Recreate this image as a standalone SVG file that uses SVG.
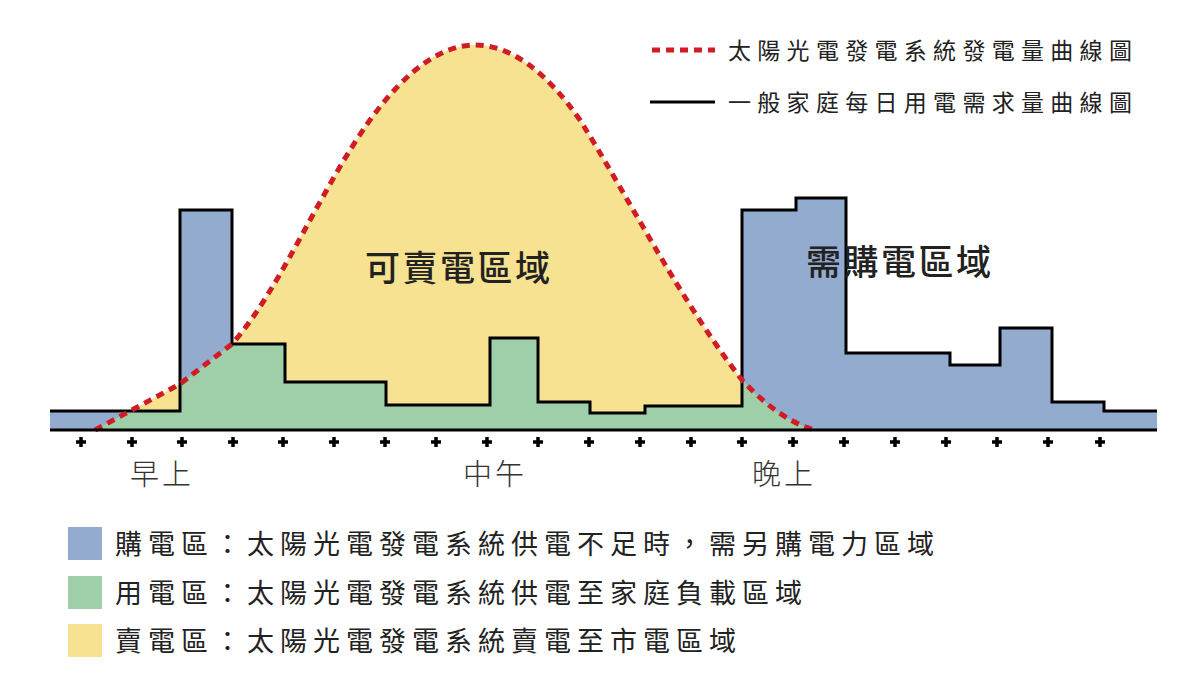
<svg xmlns="http://www.w3.org/2000/svg" width="1200" height="694" viewBox="0 0 1200 694">
<style>
text{font-family:"Liberation Sans","Noto Sans CJK TC",sans-serif;fill:#222}
.lg{font-size:23px;letter-spacing:6.3px}
.big{font-size:35px;font-weight:500;letter-spacing:2.5px}
.t{font-size:29px;font-weight:300;fill:#333;letter-spacing:3px}
.leg{font-size:27px;letter-spacing:6px}
.tick{stroke:#000;stroke-width:3.5}
</style>
<defs>
<path id="sun" d="M95,430 L180,384 L232,344 C280,290 320,190 370,120 C410,65 445,45 475,45 C510,45 545,70 580,120 C630,200 680,300 742,380 C770,410 795,425 815,430 Z"/>
<clipPath id="dem"><path d="M50,430 L50,411 L180,411 L180,210 L232,210 L232,344 L285,344 L285,382 L386,382 L386,405 L490,405 L490,338 L538,338 L538,402 L590,402 L590,413 L645,413 L645,406 L742,406 L742,210 L796,210 L796,198 L846,198 L846,353 L950,353 L950,365 L1000,365 L1000,328 L1052,328 L1052,402 L1104,402 L1104,411 L1157,411 L1157,430 Z"/></clipPath>
</defs>
<rect width="1200" height="694" fill="#fff"/>
<g id="areas">
<use href="#sun" fill="#f6e291"/>
<path d="M50,430 L50,411 L180,411 L180,210 L232,210 L232,344 L285,344 L285,382 L386,382 L386,405 L490,405 L490,338 L538,338 L538,402 L590,402 L590,413 L645,413 L645,406 L742,406 L742,210 L796,210 L796,198 L846,198 L846,353 L950,353 L950,365 L1000,365 L1000,328 L1052,328 L1052,402 L1104,402 L1104,411 L1157,411 L1157,430 Z" fill="#93abcf"/>
<use href="#sun" fill="#9fcfa9" clip-path="url(#dem)"/>
</g>
<g id="connectors">
<path d="M50,411 L180,411 L180,210 L232,210 L232,344 L285,344 L285,382 L386,382 L386,405 L490,405 L490,338 L538,338 L538,402 L590,402 L590,413 L645,413 L645,406 L742,406 L742,210 L796,210 L796,198 L846,198 L846,353 L950,353 L950,365 L1000,365 L1000,328 L1052,328 L1052,402 L1104,402 L1104,411 L1157,411" fill="none" stroke="#000" stroke-width="3"/>
<path d="M95,430 L180,384 L232,344 C280,290 320,190 370,120 C410,65 445,45 475,45 C510,45 545,70 580,120 C630,200 680,300 742,380 C770,410 795,425 815,430" fill="none" stroke="#d01c24" stroke-width="5" stroke-dasharray="8,6"/>
<line x1="50" y1="430" x2="1157" y2="430" stroke="#000" stroke-width="3"/>
<g class="tick">
<path d="M76,442h10M81,437v10 M127,442h10M132,437v10 M177,442h10M182,437v10 M228,442h10M233,437v10 M278,442h10M283,437v10 M329,442h10M334,437v10 M380,442h10M385,437v10 M431,442h10M436,437v10 M482,442h10M487,437v10 M533,442h10M538,437v10 M584,442h10M589,437v10 M635,442h10M640,437v10 M686,442h10M691,437v10 M737,442h10M742,437v10 M788,442h10M793,437v10 M839,442h10M844,437v10 M890,442h10M895,437v10 M941,442h10M946,437v10 M992,442h10M997,437v10 M1043,442h10M1048,437v10 M1095,442h10M1100,437v10"/>
</g>
</g>
<g id="legend-top">
<line x1="652" y1="50" x2="715" y2="50" stroke="#d01c24" stroke-width="5" stroke-dasharray="8,6"/>
<text class="lg" x="728" y="59">太陽光電發電系統發電量曲線圖</text>
<line x1="650" y1="102" x2="715" y2="102" stroke="#000" stroke-width="3"/>
<text class="lg" x="728" y="111">一般家庭每日用電需求量曲線圖</text>
</g>
<text class="big" x="365" y="281">可賣電區域</text>
<text class="big" x="806" y="275">需購電區域</text>
<text class="t" x="130" y="485">早上</text>
<text class="t" x="463" y="485">中午</text>
<text class="t" x="752" y="485">晚上</text>
<g id="legend-bottom">
<rect x="68" y="527" width="34" height="33" fill="#93abcf"/>
<text class="leg" x="115" y="554">購電區：太陽光電發電系統供電不足時，需另購電力區域</text>
<rect x="68" y="576" width="34" height="33" fill="#9fcfa9"/>
<text class="leg" x="115" y="603">用電區：太陽光電發電系統供電至家庭負載區域</text>
<rect x="68" y="624" width="34" height="33" fill="#f6e291"/>
<text class="leg" x="115" y="651">賣電區：太陽光電發電系統賣電至市電區域</text>
</g>
</svg>
